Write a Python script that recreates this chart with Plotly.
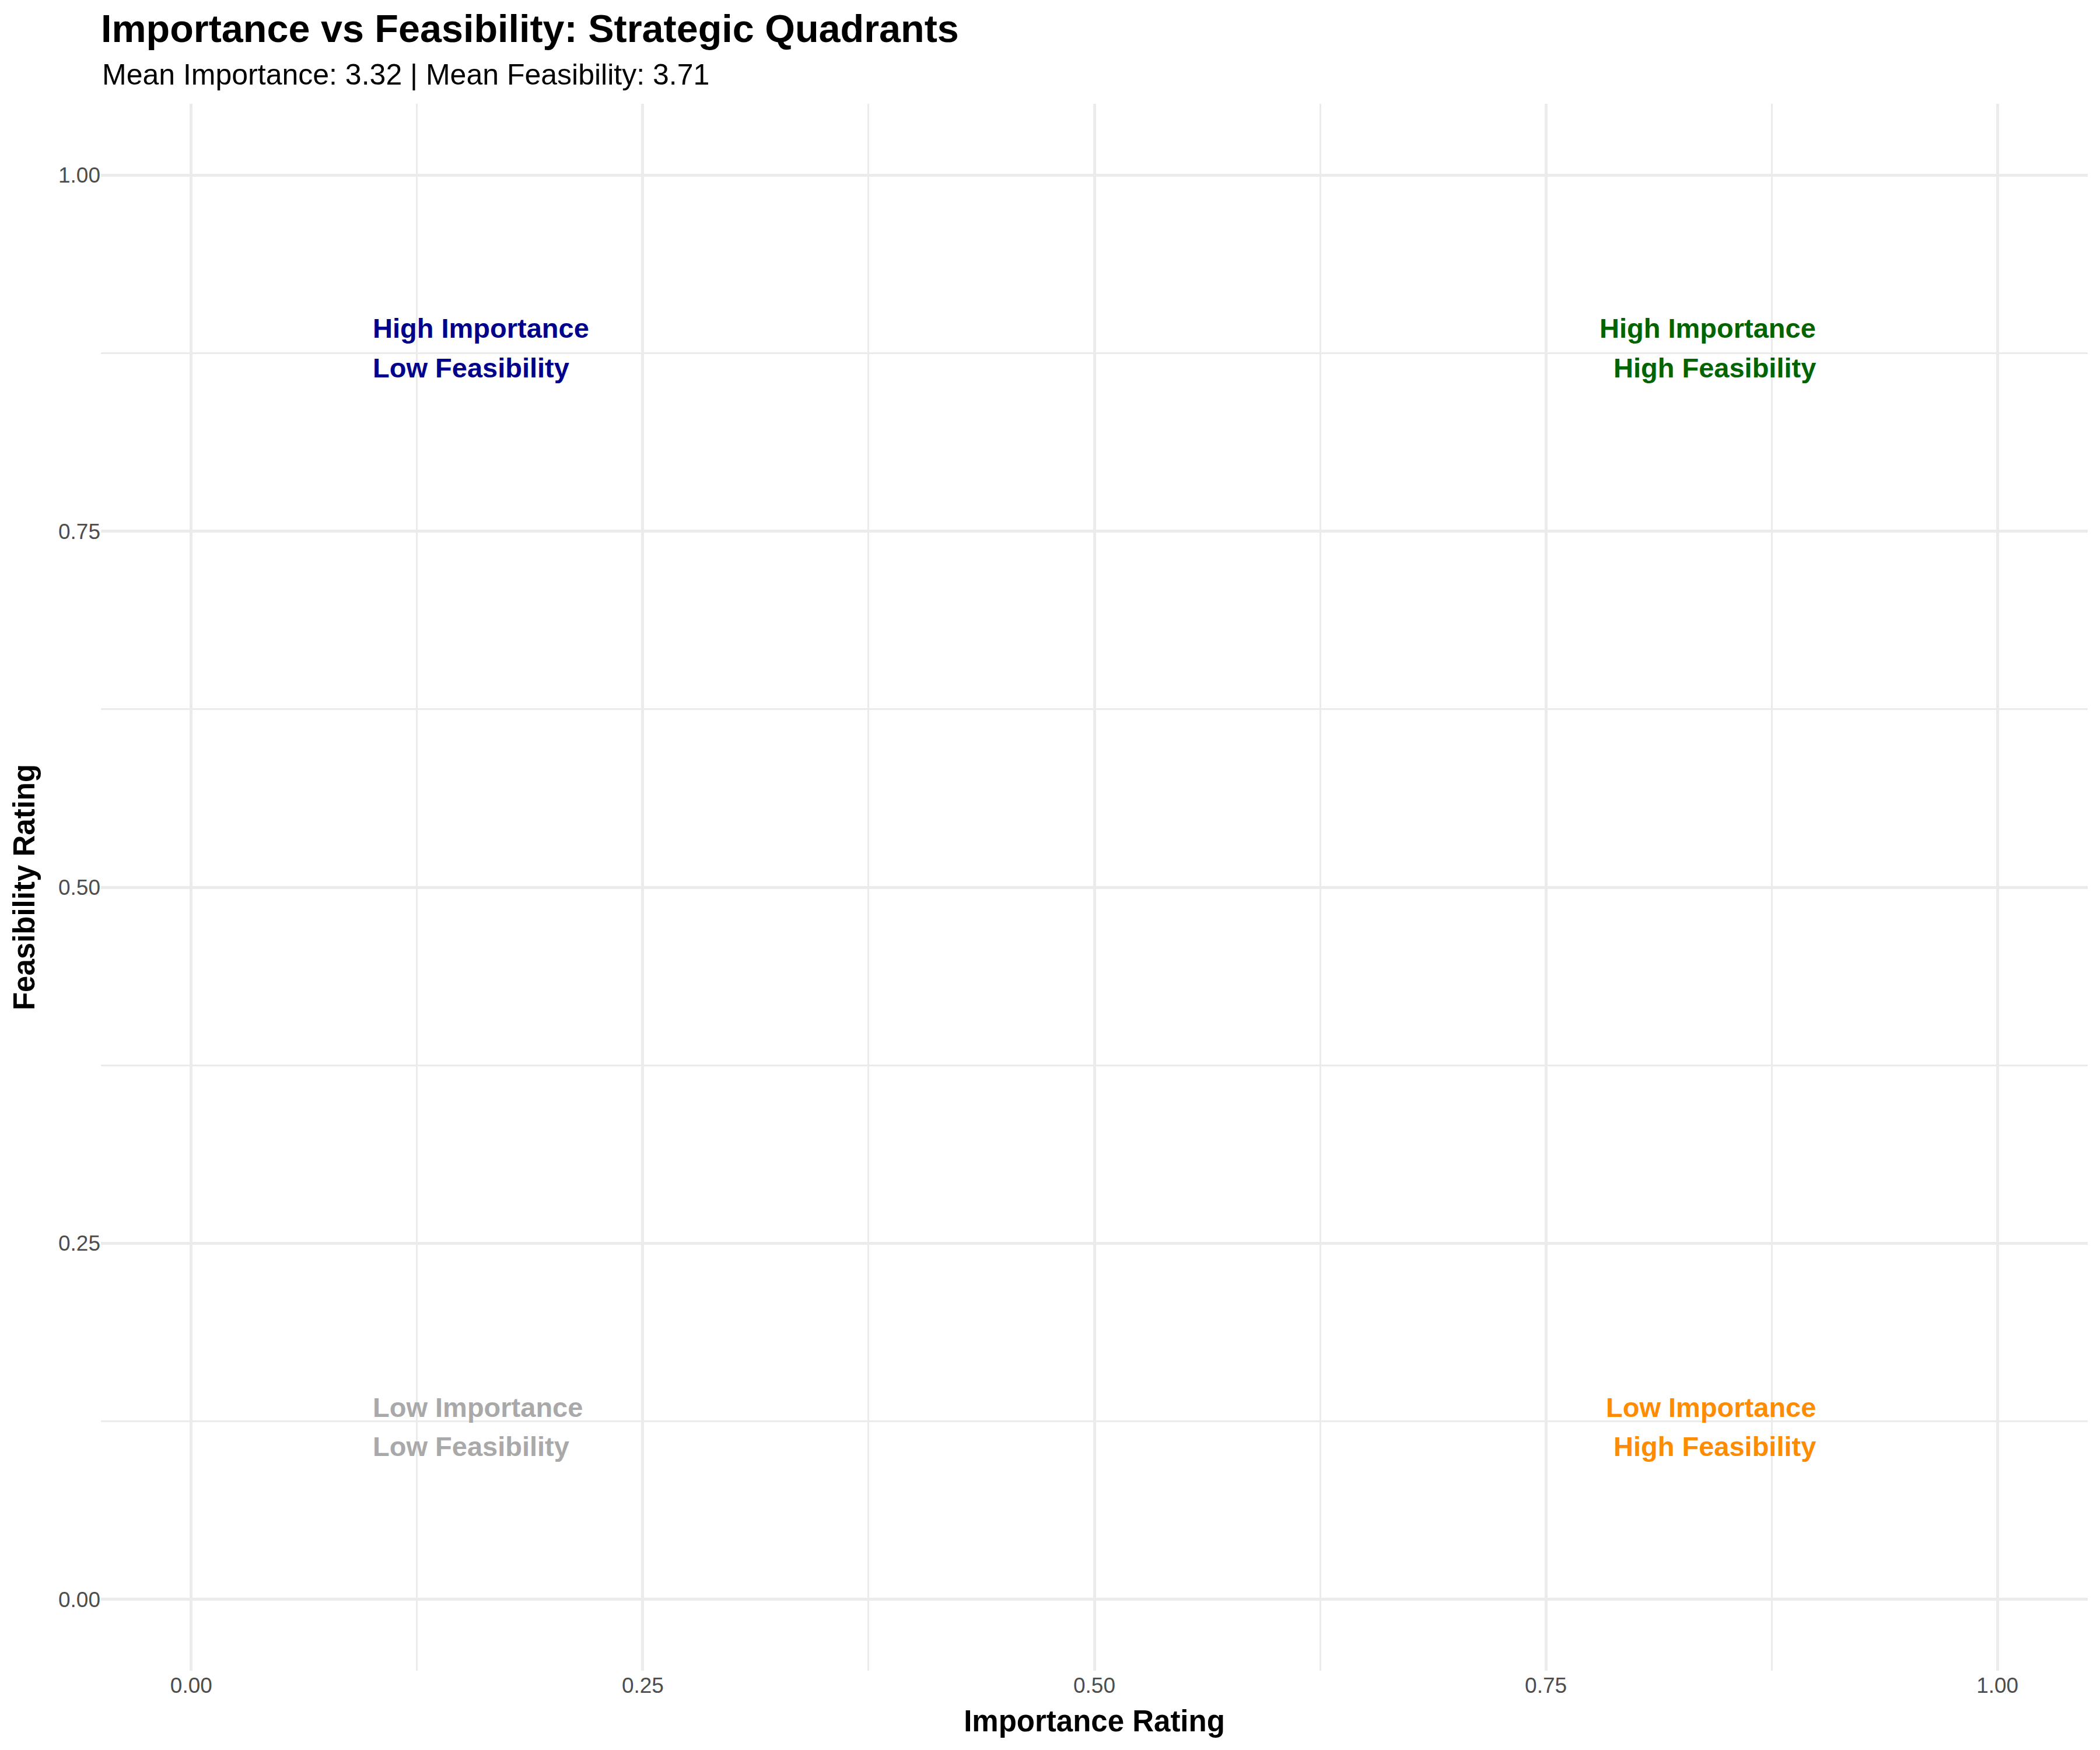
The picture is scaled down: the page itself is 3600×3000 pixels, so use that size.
import plotly.graph_objects as go

# ---- data ----
title_text = "Importance vs Feasibility: Strategic Quadrants"
mean_importance = 3.32
mean_feasibility = 3.71
x_tick_vals = [0.0, 0.25, 0.5, 0.75, 1.0]
x_tick_text = ["0.00", "0.25", "0.50", "0.75", "1.00"]
y_tick_vals = [0.0, 0.25, 0.5, 0.75, 1.0]
y_tick_text = ["0.00", "0.25", "0.50", "0.75", "1.00"]
minor_vals = [0.125, 0.375, 0.625, 0.875]

quad_line1 = ["High Importance", "High Importance", "Low Importance", "Low Importance"]
quad_line2 = ["Low Feasibility", "High Feasibility", "Low Feasibility", "High Feasibility"]
quad_x = [0.1, 0.9, 0.1, 0.9]
quad_y = [0.9, 0.9, 0.1, 0.1]
quad_colors = ["#00008B", "#006400", "#A9A9A9", "#FF8C00"]

FONT = "Liberation Sans, Arial, Helvetica, sans-serif"
W, H = 3600, 3000
L, R, T, B = 173, 21, 178, 136

fig = go.Figure()
# invisible trace to establish axes
fig.add_trace(go.Scatter(x=[0, 1], y=[0, 1], mode="markers",
                         marker=dict(opacity=0), hoverinfo="skip", showlegend=False))

annotations = []
for l1, l2, x, y, c in zip(quad_line1, quad_line2, quad_x, quad_y, quad_colors):
    xanchor = "left" if x < 0.5 else "right"
    if y > 0.5:
        shifts = (-18, -86)
    else:
        shifts = (85, 18)
    for txt, ys in zip((l1, l2), shifts):
        annotations.append(dict(
            x=x, y=y, xref="x", yref="y", text="<b>" + txt + "</b>",
            showarrow=False, xanchor=xanchor, yanchor="middle", yshift=ys,
            font=dict(family=FONT, size=47, color=c)))

# subtitle
annotations.append(dict(
    x=0, y=(2864 - 127.5) / 2686,
    xref="paper", yref="paper", xanchor="left", yanchor="middle",
    text=f"Mean Importance: {mean_importance:.2f} | Mean Feasibility: {mean_feasibility:.2f}",
    showarrow=False, font=dict(family=FONT, size=50, color="#000000")))

fig.update_layout(
    width=W, height=H,
    margin=dict(l=L, r=R, t=T, b=B),
    paper_bgcolor="white", plot_bgcolor="white",
    title=dict(text="<b>" + title_text + "</b>", x=L / W, xanchor="left",
               xref="container", y=1 - 49 / H, yanchor="middle", yref="container",
               font=dict(family=FONT, size=66.5, color="#000000")),
    annotations=annotations,
    showlegend=False,
)

axis_common = dict(
    showline=False, zeroline=False, ticks="", automargin=False,
    showgrid=True, gridcolor="#EBEBEB", gridwidth=5,
    tickfont=dict(family=FONT, size=37, color="#4D4D4D"),
    minor=dict(tickvals=minor_vals, showgrid=True, gridcolor="#EBEBEB", gridwidth=2.5),
)

fig.update_xaxes(
    range=[-0.05, 1.05], tickmode="array", tickvals=x_tick_vals, ticktext=x_tick_text,
    title=dict(text="<b>Importance Rating</b>", standoff=23,
               font=dict(family=FONT, size=51, color="#000000")),
    **axis_common)
fig.update_yaxes(
    range=[-0.05, 1.05], tickmode="array", tickvals=y_tick_vals, ticktext=y_tick_text,
    title=dict(text="<b>Feasibility Rating</b>", standoff=24,
               font=dict(family=FONT, size=51, color="#000000")),
    **axis_common)

fig.write_html("out.html")
